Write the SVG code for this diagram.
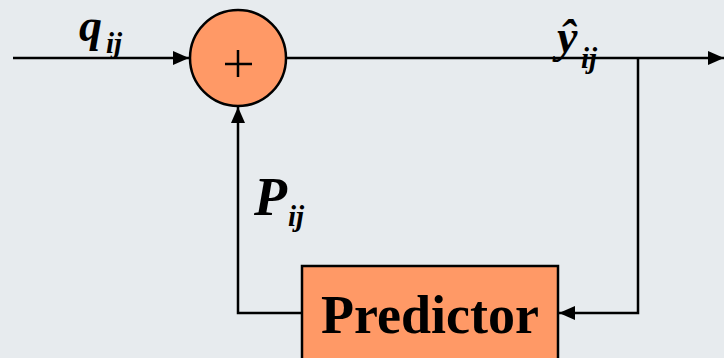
<svg xmlns="http://www.w3.org/2000/svg" width="724" height="358" viewBox="0 0 724 358">
<defs>
<style>
.ln{stroke:#000;stroke-width:2.5;fill:none}
.bi{font-family:"Liberation Serif","Times New Roman",serif;font-weight:bold;font-style:italic;fill:#000}
.nd{fill:#ff9966;stroke:#000;stroke-width:2.5}
</style>
<marker id="ah2" markerWidth="16" markerHeight="14" refX="16" refY="7" orient="auto" markerUnits="userSpaceOnUse" viewBox="0 0 16 14">
<path d="M0,0 L16,7 L0,14 Z" fill="#000"/>
</marker>
</defs>
<rect width="724" height="358" fill="#e7ebee"/>
<g id="connectors">
<path class="ln" d="M13,58 H189" marker-end="url(#ah2)"/>
<path class="ln" d="M286,58 H724" marker-end="url(#ah2)"/>
<path class="ln" d="M638,58 V313 H559" marker-end="url(#ah2)"/>
<path class="ln" d="M302,313 H238 V107" marker-end="url(#ah2)"/>
</g>
<g id="sum">
<circle class="nd" cx="238" cy="58" r="48"/>
<path d="M225,64 H252 M238,50 V77" stroke="#000" stroke-width="2.5"/>
</g>
<g id="predictor">
<rect class="nd" x="302" y="266" width="256" height="110"/>
<text x="430" y="333" text-anchor="middle" font-family="Liberation Serif,'Times New Roman',serif" font-weight="bold" font-size="54">Predictor</text>
</g>
<g id="labels">
<text class="bi" x="79" y="41" font-size="46">q</text>
<text class="bi" x="106" y="53" font-size="29">ij</text>
<text class="bi" x="557" y="52" font-size="46">ŷ</text>
<text class="bi" x="581" y="68" font-size="29">ij</text>
<text class="bi" x="254" y="215" font-size="54">P</text>
<text class="bi" x="288" y="226" font-size="29">ij</text>
</g>
</svg>
